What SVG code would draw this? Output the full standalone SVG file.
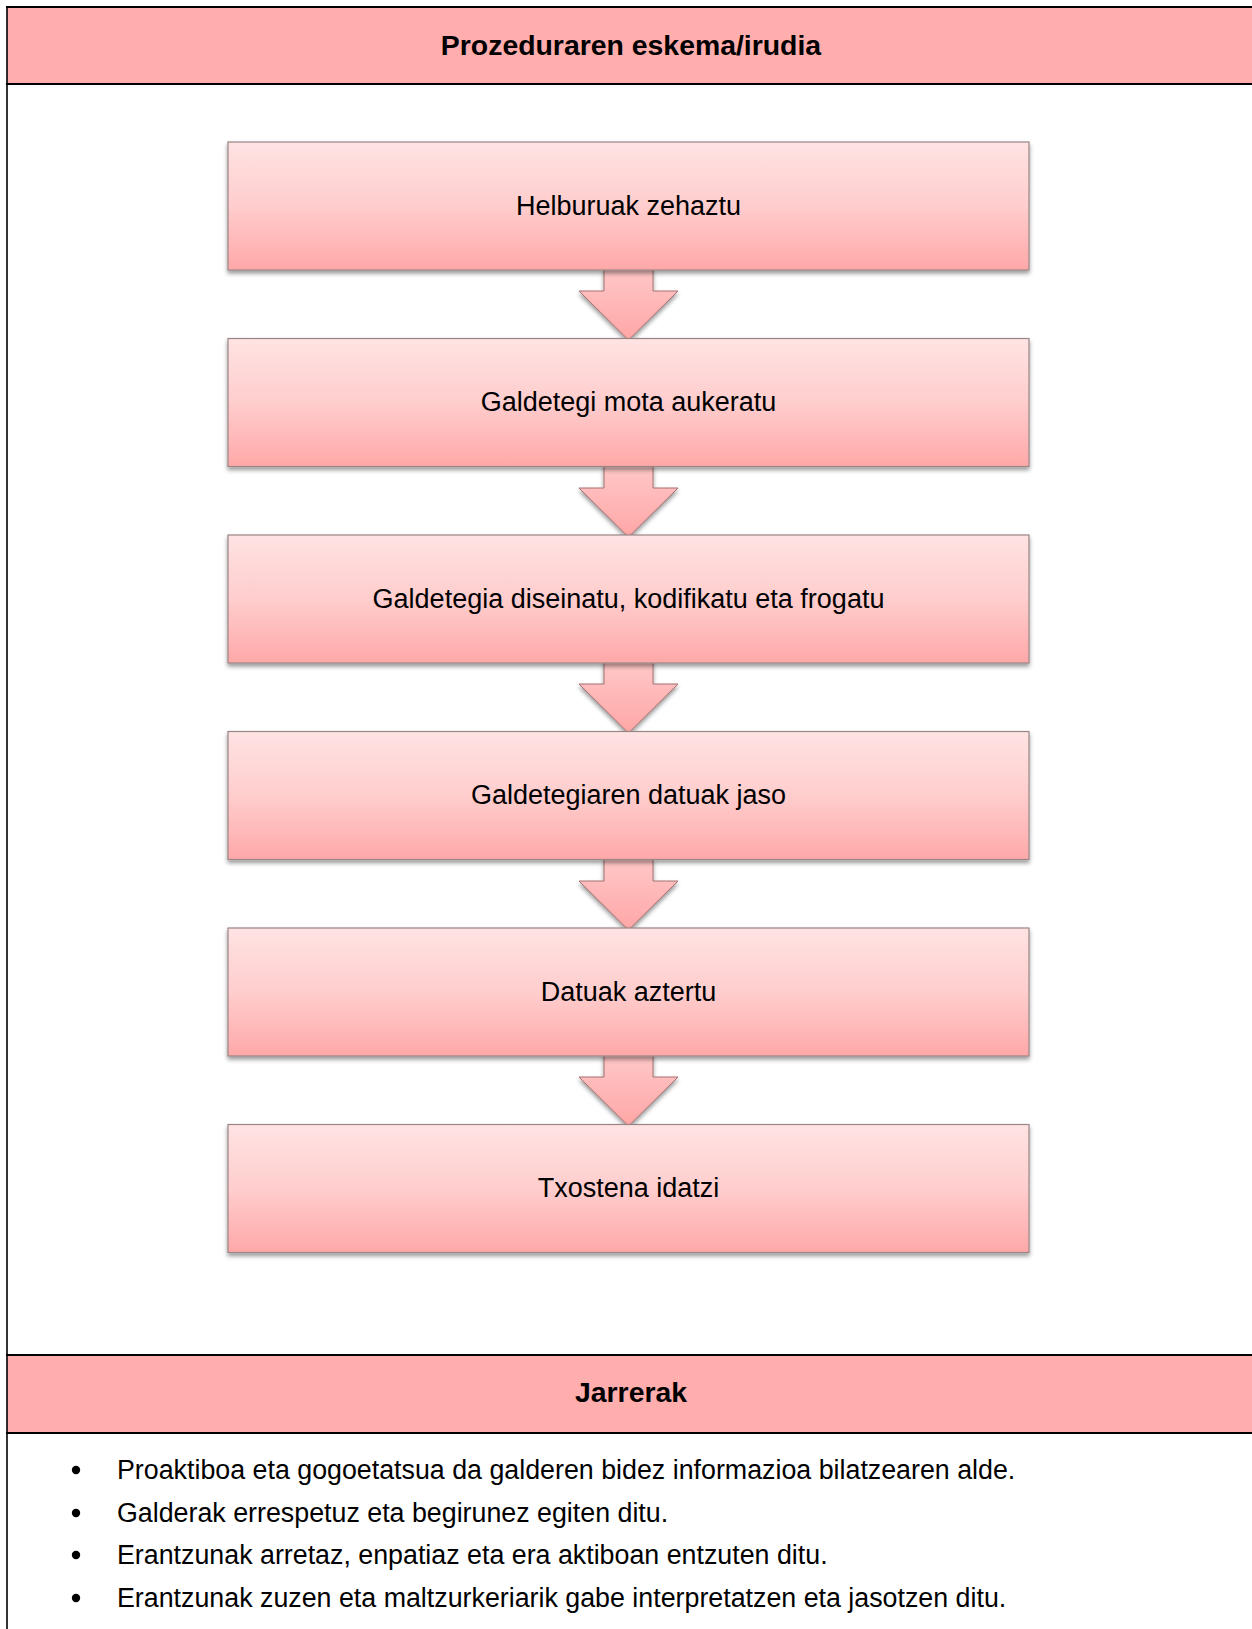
<svg xmlns="http://www.w3.org/2000/svg" width="1252" height="1629" viewBox="0 0 1252 1629">
<defs>
<linearGradient id="boxGrad" x1="0" y1="0" x2="0" y2="1">
<stop offset="0" stop-color="#FFE3E3"/>
<stop offset="0.5" stop-color="#FFCDCD"/>
<stop offset="1" stop-color="#FFA8A8"/>
</linearGradient>
<linearGradient id="arrowGrad" x1="0" y1="0" x2="0" y2="1">
<stop offset="0" stop-color="#FFC8C8"/>
<stop offset="1" stop-color="#FFA6A6"/>
</linearGradient>
<filter id="shadow" x="-5%" y="-10%" width="110%" height="130%">
<feDropShadow dx="0" dy="3" stdDeviation="2" flood-color="#000" flood-opacity="0.4"/>
</filter>
</defs>
<style>
.hdr{fill:#FFADAD}
.rule{stroke:#000;stroke-width:2.2;fill:none}
.vrule{stroke:#000;stroke-width:1.6;fill:none}
.title{font-family:"Liberation Sans",Arial,sans-serif;font-weight:bold;font-size:28.4px;fill:#000;text-anchor:middle}
.box{fill:url(#boxGrad);stroke:#9A8585;stroke-width:1.2;filter:url(#shadow)}
.lbl{font-family:"Liberation Sans",Arial,sans-serif;font-size:27px;fill:#000;text-anchor:middle}
.arrow{fill:url(#arrowGrad);stroke:#A87070;stroke-width:1;filter:url(#shadow)}
.bul{font-family:"Liberation Sans",Arial,sans-serif;font-size:26.8px;fill:#000}
</style>
<rect width="1252" height="1629" fill="#fff"/>
<g id="header1">
<rect class="hdr" x="7" y="7" width="1245" height="77"/>
<line class="rule" x1="6" y1="7" x2="1252" y2="7"/>
<line class="rule" x1="6" y1="84" x2="1252" y2="84"/>
<text class="title" x="631" y="54.5">Prozeduraren eskema/irudia</text>
</g>
<g id="connectors">
<path class="arrow" d="M604,268 H653 V291 H678 L628.5,340 L579,291 H604 Z"/>
<path class="arrow" d="M604,465 H653 V488 H678 L628.5,537 L579,488 H604 Z"/>
<path class="arrow" d="M604,661 H653 V684 H678 L628.5,733 L579,684 H604 Z"/>
<path class="arrow" d="M604,858 H653 V881 H678 L628.5,930 L579,881 H604 Z"/>
<path class="arrow" d="M604,1054 H653 V1077 H678 L628.5,1126 L579,1077 H604 Z"/>
</g>
<g id="node1"><rect class="box" x="228" y="142" width="801" height="128"/><text class="lbl" x="628.5" y="214.5">Helburuak zehaztu</text></g>
<g id="node2"><rect class="box" x="228" y="338.5" width="801" height="128"/><text class="lbl" x="628.5" y="411">Galdetegi mota aukeratu</text></g>
<g id="node3"><rect class="box" x="228" y="535" width="801" height="128"/><text class="lbl" x="628.5" y="607.5">Galdetegia diseinatu, kodifikatu eta frogatu</text></g>
<g id="node4"><rect class="box" x="228" y="731.5" width="801" height="128"/><text class="lbl" x="628.5" y="804">Galdetegiaren datuak jaso</text></g>
<g id="node5"><rect class="box" x="228" y="928" width="801" height="128"/><text class="lbl" x="628.5" y="1000.5">Datuak aztertu</text></g>
<g id="node6"><rect class="box" x="228" y="1124.5" width="801" height="128"/><text class="lbl" x="628.5" y="1197">Txostena idatzi</text></g>
<g id="header2">
<rect class="hdr" x="7" y="1355" width="1245" height="78"/>
<line class="rule" x1="6" y1="1355" x2="1252" y2="1355"/>
<line class="rule" x1="6" y1="1433" x2="1252" y2="1433"/>
<text class="title" x="631" y="1402">Jarrerak</text>
</g>
<line class="vrule" x1="7" y1="6" x2="7" y2="1629"/>
<g id="bullets">
<circle cx="76" cy="1470" r="4.2"/>
<text class="bul" x="117" y="1479">Proaktiboa eta gogoetatsua da galderen bidez informazioa bilatzearen alde.</text>
<circle cx="76" cy="1513" r="4.2"/>
<text class="bul" x="117" y="1522">Galderak errespetuz eta begirunez egiten ditu.</text>
<circle cx="76" cy="1555" r="4.2"/>
<text class="bul" x="117" y="1564">Erantzunak arretaz, enpatiaz eta era aktiboan entzuten ditu.</text>
<circle cx="76" cy="1598" r="4.2"/>
<text class="bul" x="117" y="1607">Erantzunak zuzen eta maltzurkeriarik gabe interpretatzen eta jasotzen ditu.</text>
</g>
</svg>
